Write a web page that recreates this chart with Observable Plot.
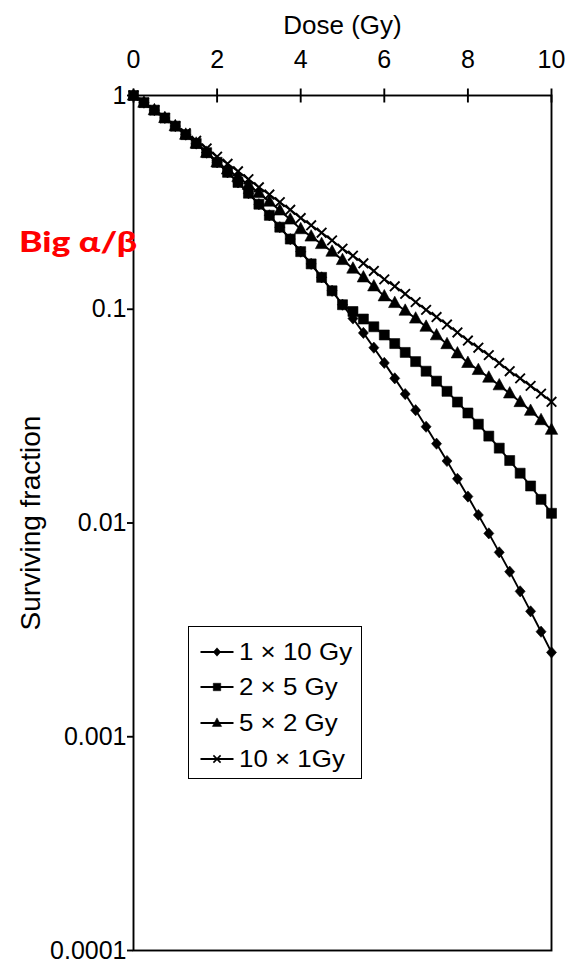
<!DOCTYPE html>
<html>
<head>
<meta charset="utf-8">
<script src="https://cdn.jsdelivr.net/npm/d3@7"></script>
<script src="https://cdn.jsdelivr.net/npm/@observablehq/plot@0.6"></script>
<style>
  body { margin: 0; background: #fff; font-family: "Liberation Sans", Arial, sans-serif; }
  #wrap { position: relative; width: 567px; height: 967px; overflow: hidden; }
  #tag { position: absolute; left: 19px; top: 227px; color: #ff0000; font-family: "Lato", "Open Sans", sans-serif; font-weight: 900; font-size: 28px; line-height: 28px; white-space: nowrap; transform-origin: left top; }
  #legend { position: absolute; left: 188px; top: 626px; width: 172px; height: 151px; border: 1.6px solid #000; background: #fff; }
  .row { position: absolute; left: 0; height: 36px; width: 172px; }
  .row svg { position: absolute; left: 0; top: 0; }
  .row span { position: absolute; left: 50px; top: 0; line-height: 36px; font-size: 24px; white-space: nowrap; transform-origin: left center; color: #000; }
</style>
</head>
<body>
<div id="wrap"></div>
<script>
// ---- data ----
const dose = [0,0.25,0.5,0.75,1,1.25,1.5,1.75,2,2.25,2.5,2.75,3,3.25,3.5,3.75,4,4.25,4.5,4.75,5,5.25,5.5,5.75,6,6.25,6.5,6.75,7,7.25,7.5,7.75,8,8.25,8.5,8.75,9,9.25,9.5,9.75,10];
const seriesNames = ["1 × 10 Gy", "2 × 5 Gy", "5 × 2 Gy", "10 × 1Gy"];
const sf1x10 = [1,0.926,0.854,0.785,0.719,0.656,0.596,0.540,0.487,0.437,0.392,0.349,0.310,0.275,0.242,0.213,0.186,0.163,0.141,0.122,0.105,0.0905,0.0775,0.0661,0.0561,0.0475,0.0401,0.0337,0.0282,0.0235,0.0195,0.0161,0.0133,0.0109,0.00894,0.00729,0.00592,0.00479,0.00386,0.00310,0.00248];
const sf2x5 = [1,0.926,0.854,0.785,0.719,0.656,0.596,0.540,0.487,0.437,0.392,0.349,0.310,0.275,0.242,0.213,0.186,0.163,0.141,0.122,0.105,0.0976,0.0900,0.0828,0.0758,0.0691,0.0628,0.0569,0.0513,0.0461,0.0413,0.0368,0.0327,0.0290,0.0255,0.0224,0.0196,0.0171,0.0149,0.0129,0.0111];
const sf5x2 = [1,0.926,0.854,0.785,0.719,0.656,0.596,0.540,0.487,0.451,0.416,0.382,0.350,0.319,0.290,0.263,0.237,0.219,0.202,0.186,0.170,0.155,0.141,0.128,0.115,0.107,0.0985,0.0905,0.0829,0.0756,0.0687,0.0622,0.0561,0.0520,0.0479,0.0441,0.0404,0.0368,0.0335,0.0303,0.0273];
const sf10x1 = [1,0.926,0.854,0.785,0.719,0.666,0.614,0.565,0.517,0.479,0.442,0.406,0.372,0.344,0.317,0.292,0.267,0.247,0.228,0.210,0.192,0.178,0.164,0.151,0.138,0.128,0.118,0.108,0.0993,0.0919,0.0848,0.0779,0.0714,0.0661,0.0610,0.0560,0.0513,0.0475,0.0438,0.0403,0.0369];
const xTicks = [0, 2, 4, 6, 8, 10];
const yTicks = [1, 0.1, 0.01, 0.001, 0.0001];
const yTickLabels = ["1", "0.1", "0.01", "0.001", "0.0001"];
const xLabel = "Dose (Gy)";
const yLabel = "Surviving fraction";
const tagText = "Big α/β";

// ---- build table ----
const seriesValues = [sf1x10, sf2x5, sf5x2, sf10x1];
const rows = seriesNames.flatMap((name, i) => dose.map((d, j) => ({series: name, dose: d, sf: seriesValues[i][j]})));

// ---- marker shapes ----
function mk(s) {
  return [
    {draw(c) { c.moveTo(0, -5.6*s); c.lineTo(5*s, 0); c.lineTo(0, 5.6*s); c.lineTo(-5*s, 0); c.closePath(); }},
    {draw(c) { c.rect(-5*s, -5*s, 10*s, 10*s); }},
    {draw(c) { c.moveTo(0, -6.8*s); c.lineTo(6.2*s, 4.6*s); c.lineTo(-6.2*s, 4.6*s); c.closePath(); }},
    {draw(c) { c.moveTo(-4.8*s, -4.8*s); c.lineTo(4.8*s, 4.8*s); c.moveTo(4.8*s, -4.8*s); c.lineTo(-4.8*s, 4.8*s); }}
  ];
}
const symbols = mk(1);
const vtick = {draw(c) { c.moveTo(0, -7); c.lineTo(0, 7); }};

const marks = [];
seriesNames.forEach((name) => {
  marks.push(Plot.line(rows.filter(r => r.series === name), {x: "dose", y: "sf", stroke: "black", strokeWidth: 1.9}));
});
seriesNames.forEach((name, i) => {
  const filled = i < 3;
  marks.push(Plot.dot(rows.filter(r => r.series === name), {
    x: "dose", y: "sf", symbol: symbols[i],
    fill: filled ? "black" : "none", stroke: "black", strokeWidth: filled ? 0.6 : 1.9
  }));
});

const chart = Plot.plot({
  width: 567,
  height: 967,
  marginTop: 95,
  marginLeft: 133,
  marginRight: 16,
  marginBottom: 17,
  style: {fontFamily: '"Liberation Sans", Arial, sans-serif', color: "black", background: "white"},
  x: {domain: [0, 10]},
  y: {type: "log", domain: [0.0001, 1]},
  marks: [
    Plot.frame({stroke: "black", strokeWidth: 1.9}),
    Plot.axisX({anchor: "top", ticks: xTicks, tickSize: 0, tickPadding: 28, fontSize: 25, label: null}),
    Plot.dot(xTicks, {x: d => d, y: () => yTicks[0], symbol: vtick, fill: "none", stroke: "black", strokeWidth: 1.9}),
    Plot.axisY({anchor: "left", ticks: yTicks, tickFormat: d => yTickLabels[yTicks.indexOf(d)], tickSize: 6, tickPadding: 1, fontSize: 25, strokeWidth: 1.9, label: null}),
    Plot.text([xLabel], {text: d => d, frameAnchor: "top", textAnchor: "middle", dy: -80, lineAnchor: "top", fontSize: 26}),
    Plot.text([yLabel], {text: d => d, frameAnchor: "left", textAnchor: "middle", dx: -113, rotate: -90, lineAnchor: "top", fontSize: 28}),
    ...marks
  ]
});

const wrap = document.getElementById("wrap");
wrap.appendChild(chart);

// ---- red annotation ----
const tag = document.createElement("div");
tag.id = "tag";
tag.textContent = tagText;
wrap.appendChild(tag);

// ---- legend ----
const legend = document.createElement("div");
legend.id = "legend";
const legSyms = mk(0.75);
const rowCenters = [24.5, 60.2, 95.9, 131.6];
seriesNames.forEach((name, i) => {
  const row = document.createElement("div");
  row.className = "row";
  row.style.top = (rowCenters[i] - 18) + "px";
  const svg = d3.create("svg").attr("width", 50).attr("height", 36);
  svg.append("line").attr("x1", 11.5).attr("x2", 44.5).attr("y1", 18).attr("y2", 18).attr("stroke", "black").attr("stroke-width", 1.8);
  const p = d3.path(); legSyms[i].draw(p);
  svg.append("path").attr("d", p.toString()).attr("transform", "translate(28,18)")
    .attr("fill", i < 3 ? "black" : "none").attr("stroke", "black").attr("stroke-width", i < 3 ? 0.5 : 1.6);
  row.appendChild(svg.node());
  const span = document.createElement("span");
  span.textContent = name;
  row.appendChild(span);
  legend.appendChild(row);
});
wrap.appendChild(legend);

function fit() {
  const t = document.getElementById("tag");
  t.style.transform = "none";
  const w = t.getBoundingClientRect().width;
  if (w > 0) t.style.transform = `scaleX(${118 / w})`;
  document.querySelectorAll(".row span").forEach(s => { s.style.transform = "scaleX(1.08)"; });
}
fit();
if (document.fonts && document.fonts.ready) document.fonts.ready.then(fit);
</script>
</body>
</html>
